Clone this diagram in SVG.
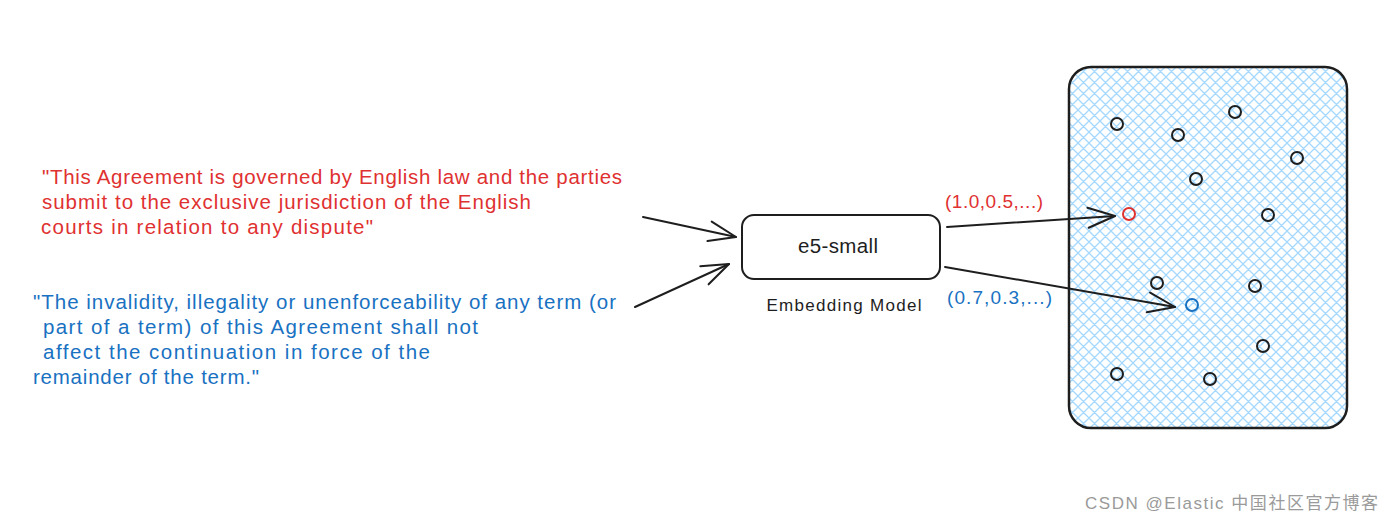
<svg xmlns="http://www.w3.org/2000/svg" width="1395" height="524" viewBox="0 0 1395 524">
<style>
.red{fill:#e03131}
.blue{fill:#1971c2}
.ink{fill:#1e1e1e}
.q{font-family:"Liberation Sans",Arial,sans-serif;font-size:20.5px}
.lbl{font-family:"Liberation Sans",Arial,sans-serif;font-size:19px}
.conn{fill:none;stroke:#1e1e1e;stroke-width:2;stroke-linecap:round}
.pt{fill:none;stroke:#1e1e1e;stroke-width:2}
</style>
<defs>
<marker id="arr" markerUnits="userSpaceOnUse" viewBox="-30 -13 34 26" refX="0" refY="0" markerWidth="34" markerHeight="26" orient="auto" overflow="visible">
<path d="M-27,-10 L0,0 L-27,10" fill="none" stroke="#1e1e1e" stroke-width="2" stroke-linecap="round" stroke-linejoin="round"/>
</marker>
<pattern id="hatch" patternUnits="userSpaceOnUse" width="11" height="11">
<path d="M0,11 L11,0 M-2,2 L2,-2 M9,13 L13,9 M0,0 L11,11 M-2,9 L2,13 M9,-2 L13,2" stroke="#a5d8ff" stroke-width="1.3"/>
</pattern>
</defs>
<rect width="1395" height="524" fill="#ffffff"/>

<g id="quote-red" class="q red">
<text x="42" y="184" textLength="580">"This Agreement is governed by English law and the parties</text>
<text x="42" y="209" textLength="489">submit to the exclusive jurisdiction of the English</text>
<text x="41" y="234" textLength="332">courts in relation to any dispute"</text>
</g>

<g id="quote-blue" class="q blue">
<text x="33" y="309" textLength="583">"The invalidity, illegality or unenforceability of any term (or</text>
<text x="43" y="334" textLength="435">part of a term) of this Agreement shall not</text>
<text x="43" y="359" textLength="387">affect the continuation in force of the</text>
<text x="33" y="384" textLength="226">remainder of the term."</text>
</g>

<g id="embedding-model">
<rect x="742" y="215" width="198" height="64" rx="12" fill="#ffffff" stroke="#1e1e1e" stroke-width="2"/>
<text x="838" y="253" text-anchor="middle" class="ink" font-family="Liberation Sans, Arial, sans-serif" font-size="20.5" textLength="80">e5-small</text>
<text x="844" y="311" text-anchor="middle" class="ink" font-family="Liberation Sans, Arial, sans-serif" font-size="17" textLength="155">Embedding Model</text>
</g>

<g id="vector-space">
<rect x="1069" y="67" width="278" height="361" rx="22" fill="url(#hatch)" stroke="#1e1e1e" stroke-width="2.5"/>
<circle class="pt" cx="1117" cy="124" r="6"/>
<circle class="pt" cx="1178" cy="135" r="6"/>
<circle class="pt" cx="1235" cy="112" r="6"/>
<circle class="pt" cx="1297" cy="158" r="6"/>
<circle class="pt" cx="1196" cy="179" r="6"/>
<circle class="pt" cx="1268" cy="215" r="6"/>
<circle class="pt" cx="1157" cy="283" r="6"/>
<circle class="pt" cx="1255" cy="286" r="6"/>
<circle class="pt" cx="1263" cy="346" r="6"/>
<circle class="pt" cx="1117" cy="374" r="6"/>
<circle class="pt" cx="1210" cy="379" r="6"/>
</g>
<g id="point-red"><circle cx="1129" cy="214" r="6" fill="none" stroke="#e03131" stroke-width="2"/></g>
<g id="point-blue"><circle cx="1192" cy="305" r="6" fill="none" stroke="#1971c2" stroke-width="2"/></g>

<g id="label-red" class="lbl red"><text x="945" y="208" textLength="98">(1.0,0.5,...)</text></g>
<g id="label-blue" class="lbl blue"><text x="947" y="304" textLength="105">(0.7,0.3,...)</text></g>

<g id="connectors">
<path class="conn" d="M643,217 L736,237" marker-end="url(#arr)"/>
<path class="conn" d="M635,307 L729,264" marker-end="url(#arr)"/>
<path class="conn" d="M947,227 L1115,216" marker-end="url(#arr)"/>
<path class="conn" d="M945,267 L1175,307" marker-end="url(#arr)"/>
</g>

<g id="watermark"><text x="1085" y="509" font-family="Liberation Sans, Noto Sans CJK SC, sans-serif" font-size="17" fill="#9a9a9a" textLength="293">CSDN @Elastic 中国社区官方博客</text></g>
</svg>
